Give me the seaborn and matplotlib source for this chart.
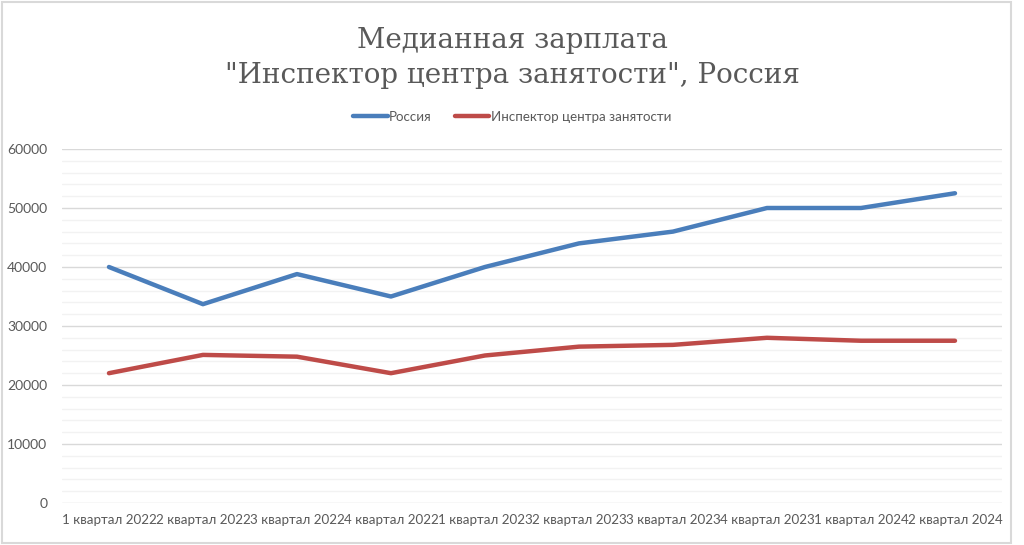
import matplotlib
matplotlib.use("Agg")
import matplotlib.pyplot as plt
import seaborn as sns
import pandas as pd
from matplotlib.ticker import MultipleLocator
from matplotlib.patches import Rectangle

categories = ["1 квартал 2022", "2 квартал 2022", "3 квартал 2022", "4 квартал 2022",
              "1 квартал 2023", "2 квартал 2023", "3 квартал 2023", "4 квартал 2023",
              "1 квартал 2024", "2 квартал 2024"]
russia = [40000, 33700, 38800, 35000, 40000, 44000, 46000, 50000, 50000, 52500]
inspector = [22000, 25100, 24800, 22000, 25000, 26500, 26800, 28000, 27500, 27500]
series_names = ["Россия", "Инспектор центра занятости"]
title = "Медианная зарплата\n\"Инспектор центра занятости\", Россия"

df = pd.DataFrame({
    "x": list(range(len(categories))) * 2,
    "value": russia + inspector,
    "series": [series_names[0]] * len(russia) + [series_names[1]] * len(inspector),
})

sns.set_theme(style="white")
plt.rcParams['font.family'] = ['Lato', 'DejaVu Sans']

fig = plt.figure(figsize=(10.24, 5.45), dpi=100)
ax = fig.add_axes([0.0605, 0.0771, 0.918, 0.6495])

sns.lineplot(data=df, x="x", y="value", hue="series",
             palette=["#4A7EBB", "#BE4B48"], linewidth=3.2, ax=ax,
             legend=True, solid_capstyle="round")

ax.set_xlim(-0.5, len(categories) - 0.5)
ax.set_ylim(0, 60000)
ax.yaxis.set_major_locator(MultipleLocator(10000))
ax.yaxis.set_minor_locator(MultipleLocator(2000))
ax.grid(which="major", axis="y", color="#d9d9d9", linewidth=1.0)
ax.grid(which="minor", axis="y", color="#f2f2f2", linewidth=1.0)
ax.set_axisbelow(True)
for s in ax.spines.values():
    s.set_visible(False)
ax.set_xticks(range(len(categories)))
ax.set_xticklabels(categories)
ax.tick_params(axis="both", which="both", length=0, colors="#595959", labelsize=10)
ax.tick_params(axis="x", labelsize=9.6, pad=8)
ax.tick_params(axis="y", pad=10.5)
ax.set_xlabel("")
ax.set_ylabel("")

handles, labels = ax.get_legend_handles_labels()
ax.get_legend().remove()
fig.legend(handles, labels, loc="center", bbox_to_anchor=(0.5, 1 - 117 / 545), frameon=False,
           ncol=2, fontsize=9.6, handlelength=2.6, handletextpad=0.1, columnspacing=1.7,
           labelcolor="#595959")

fig.text(0.5, 1 - 58 / 545, title, ha="center", va="center", fontsize=20,
         color="#595959", family="DejaVu Serif", linespacing=1.38)

fig.patches.append(Rectangle((0.002, 0.003), 0.985, 0.994, transform=fig.transFigure,
                             fill=False, edgecolor="#d9d9d9", linewidth=1.5))

fig.savefig("out.png", dpi=100)
